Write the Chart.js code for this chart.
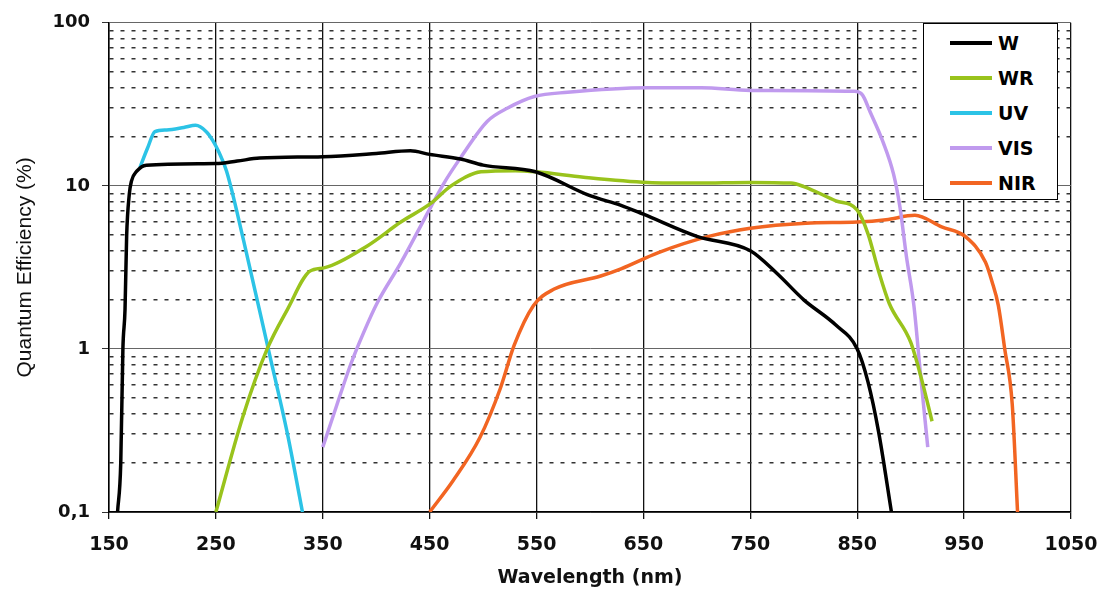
<!DOCTYPE html>
<html><head><meta charset="utf-8">
<script src="https://cdn.jsdelivr.net/npm/chart.js@4.4.1/dist/chart.umd.min.js"></script>
<style>
html,body{margin:0;padding:0;background:#fff;}
#wrap{position:relative;width:1115px;height:593px;}
#legend{position:absolute;left:923px;top:23px;width:135px;height:177px;border:1.5px solid #000;background:#fff;box-sizing:border-box;}
.item{position:absolute;left:0;width:100%;height:22px;}
.swatch{position:absolute;left:26px;top:9px;width:42px;height:4px;}
.lab{position:absolute;left:74px;top:0;font:bold 19px "DejaVu Sans",sans-serif;line-height:22px;color:#000;}
</style></head>
<body><div id="wrap"><canvas id="c" width="1115" height="593"></canvas><div id="legend"></div></div>
<script>
// ---- data ----
const xTicks = [150, 250, 350, 450, 550, 650, 750, 850, 950, 1050];
const xTickLabels = ['150', '250', '350', '450', '550', '650', '750', '850', '950', '1050'];
const yTicks = [0.1,0.2,0.3,0.4,0.5,0.6,0.7,0.8,0.9,1,2,3,4,5,6,7,8,9,10,20,30,40,50,60,70,80,90,100];
const yMajor = [0.1, 1, 10, 100];
const yMajorLabels = ['0,1', '1', '10', '100'];

const seriesNames = ['W', 'WR', 'UV', 'VIS', 'NIR'];
const seriesColors = ['#000000', '#99c31c', '#2cc3e6', '#c09aee', '#f26522'];

const W_nm = [158,161,163,165,166.5,169,171,176,185,250,270,291,350,400,432,450,479,500,549,600,629,650,700,750,775,800,830,850,860,870,882];
const W_qe = [0.1,0.2,1.0,1.75,4.9,8.9,10.7,12.3,13.4,13.7,14.2,14.8,15.1,15.8,16.4,15.6,14.6,13.4,12.2,8.7,7.6,6.7,4.9,4.0,2.9,2.0,1.4,1.0,0.63,0.31,0.1];

const WR_nm = [250,275,298,317,338,352,392,423,451,470,498,530,550,594,654,700,750,788,800,830,850,860,870,880,900,910,920];
const WR_qe = [0.1,0.38,1.0,1.75,3.0,3.15,4.3,6.0,7.8,10.0,12.2,12.4,12.2,11.3,10.5,10.4,10.5,10.4,9.9,8.1,7.1,5.1,3.0,1.9,1.1,0.66,0.36];

const UV_nm = [179,186,193,204,220,231,241,247,253,260,276,299,317,331];
const UV_qe = [13,17,21.5,22,22.8,23.5,21.5,19,16,12.3,4.6,1.0,0.3,0.1];

const VIS_nm = [350,363,376,388,401,423,451,463,479,504,523,548,579,654,704,750,847,855,862,874,884,890,896,903,909,916];
const VIS_qe = [0.25,0.45,0.8,1.25,1.92,3.37,7.4,10.3,14.9,24.9,30,35.3,37.5,40,40,38.5,38,36,28.5,18.7,11.8,7.4,3.7,1.85,0.72,0.25];

const NIR_nm = [450,472,497,516,529,547,566,610,629,664,711,750,802,850,877,904,929,951,970,976,982,988,995,1000];
const NIR_qe = [0.1,0.156,0.286,0.57,1.05,1.84,2.32,2.8,3.1,3.9,4.9,5.5,5.9,6.0,6.2,6.6,5.6,4.9,3.4,2.6,1.85,1.0,0.46,0.1];

const seriesX = [W_nm, WR_nm, UV_nm, VIS_nm, NIR_nm];
const seriesY = [W_qe, WR_qe, UV_qe, VIS_qe, NIR_qe];

// ---- chart ----
const isMajor = v => yMajor.some(m => Math.abs(m - v) < 1e-9);

const datasets = seriesNames.map((name, i) => ({
  label: name,
  data: seriesX[i].map((x, j) => ({x: x, y: seriesY[i][j]})),
  borderColor: seriesColors[i],
  backgroundColor: seriesColors[i],
  borderWidth: 3.5,
  pointRadius: 0,
  cubicInterpolationMode: 'monotone',
  fill: false
}));

const chart = new Chart(document.getElementById('c'), {
  type: 'line',
  data: { datasets: datasets },
  options: {
    responsive: false,
    animation: false,
    devicePixelRatio: 1,
    layout: { padding: { left: 0, right: 44, top: 17, bottom: 0 } },
    plugins: { legend: { display: false }, tooltip: { enabled: false } },
    scales: {
      x: {
        type: 'linear',
        min: 150, max: 1050,
        afterBuildTicks: s => { s.ticks = xTicks.map(v => ({value: v})); },
        afterFit: s => { s.height = 81; },
        grid: { color: '#111', lineWidth: 1.3, tickLength: 7, tickColor: '#111' },
        border: { color: '#000', width: 1.5 },
        ticks: { autoSkip: false, maxRotation: 0, padding: 15, color: '#111',
                 font: { family: 'DejaVu Sans', size: 19, weight: 'bold' },
                 callback: (v, i) => xTickLabels[i] },
        title: { display: true, text: 'Wavelength (nm)', color: '#111',
                 font: { family: 'DejaVu Sans', size: 19, weight: 'bold' },
                 padding: { top: 0, bottom: 4 } }
      },
      y: {
        type: 'logarithmic',
        min: 0.1, max: 100,
        afterBuildTicks: s => { s.ticks = yTicks.map(v => ({value: v, major: isMajor(v)})); },
        afterFit: s => { s.width = 109; },
        grid: {
          color: c => (c.tick && !isMajor(c.tick.value)) ? '#333' : '#666',
          lineWidth: c => (c.tick && !isMajor(c.tick.value)) ? 1.5 : 1,
          tickLength: 7,
          tickColor: c => (c.tick && !isMajor(c.tick.value)) ? 'rgba(0,0,0,0)' : '#333'
        },
        border: { color: '#000', width: 1.5,
                  dash: c => (c.tick && !isMajor(c.tick.value)) ? [4, 7] : [] },
        ticks: {
          autoSkip: false, padding: 12, color: '#111',
          font: { family: 'DejaVu Sans', size: 18, weight: 'bold' },
          callback: v => { const k = yMajor.findIndex(m => Math.abs(m - v) < 1e-9); return k >= 0 ? yMajorLabels[k] : ''; }
        },
        title: { display: true, text: 'Quantum Efficiency (%)', color: '#111',
                 font: { family: 'Liberation Sans', size: 21, weight: 'normal' },
                 padding: { top: 13, bottom: 0 } }
      }
    }
  }
});

// ---- legend (HTML, built from the datasets) ----
const lg = document.getElementById('legend');
chart.data.datasets.forEach((ds, i) => {
  const it = document.createElement('div');
  it.className = 'item';
  it.style.top = (8 + i * 35) + 'px';
  const sw = document.createElement('div');
  sw.className = 'swatch';
  sw.style.background = ds.borderColor;
  const lb = document.createElement('div');
  lb.className = 'lab';
  lb.textContent = ds.label;
  it.appendChild(sw); it.appendChild(lb);
  lg.appendChild(it);
});
</script>
</body></html>
